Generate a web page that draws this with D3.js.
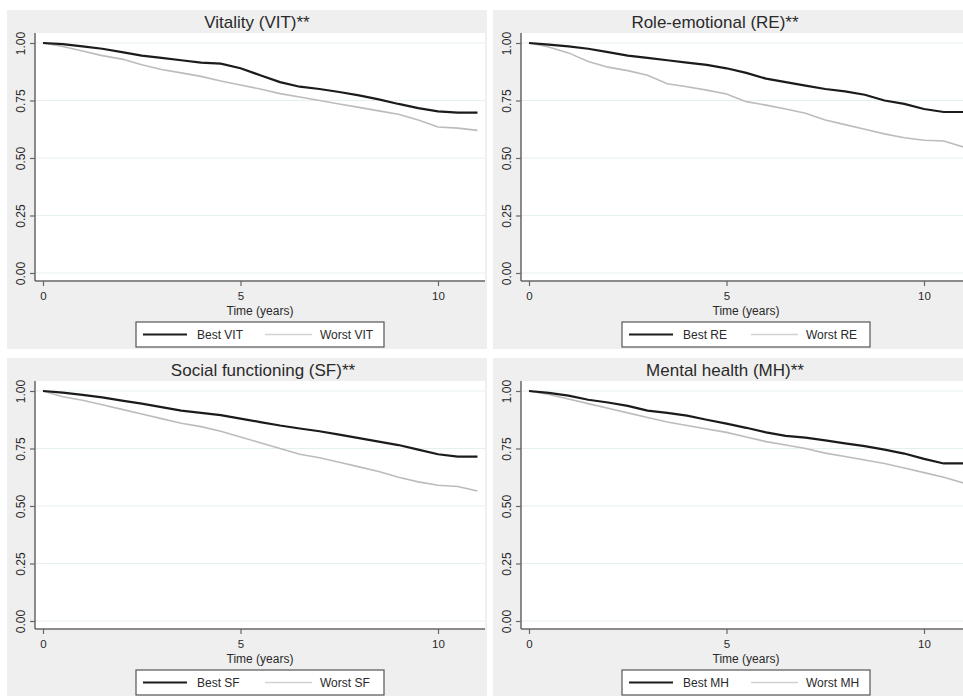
<!DOCTYPE html>
<html>
<head>
<meta charset="utf-8">
<script src="https://cdn.jsdelivr.net/npm/d3@7"></script>
<style>
  html, body { margin: 0; padding: 0; background: #ffffff; }
  svg { display: block; font-family: "Liberation Sans", Arial, sans-serif; }
</style>
</head>
<body>
<svg id="chart" width="963" height="696"></svg>
<script>
// Follow-up time grid (years) shared by all survival curves
const years = [0, 0.5, 1, 1.5, 2, 2.5, 3, 3.5, 4, 4.5, 5, 5.5, 6, 6.5, 7, 7.5, 8, 8.5, 9, 9.5, 10, 10.5, 11];

// Survival probabilities, best vs worst score group per SF-36 domain
const bestVIT  = [1.000, 0.995, 0.985, 0.975, 0.960, 0.945, 0.935, 0.925, 0.915, 0.910, 0.890, 0.860, 0.830, 0.810, 0.800, 0.787, 0.772, 0.755, 0.735, 0.717, 0.703, 0.697, 0.697];
const worstVIT = [1.000, 0.985, 0.965, 0.945, 0.930, 0.905, 0.885, 0.870, 0.855, 0.835, 0.817, 0.800, 0.780, 0.765, 0.750, 0.735, 0.720, 0.705, 0.690, 0.665, 0.635, 0.630, 0.620];

const bestRE   = [1.000, 0.993, 0.985, 0.975, 0.960, 0.945, 0.935, 0.925, 0.915, 0.905, 0.890, 0.870, 0.845, 0.830, 0.815, 0.800, 0.790, 0.775, 0.750, 0.735, 0.713, 0.700, 0.700];
const worstRE  = [1.000, 0.983, 0.957, 0.920, 0.895, 0.880, 0.860, 0.823, 0.810, 0.795, 0.778, 0.745, 0.730, 0.713, 0.695, 0.665, 0.645, 0.625, 0.605, 0.588, 0.577, 0.574, 0.548];

const bestSF   = [1.000, 0.993, 0.983, 0.972, 0.958, 0.945, 0.930, 0.915, 0.905, 0.895, 0.880, 0.865, 0.850, 0.837, 0.825, 0.810, 0.795, 0.780, 0.765, 0.745, 0.725, 0.715, 0.715];
const worstSF  = [1.000, 0.975, 0.960, 0.940, 0.920, 0.900, 0.880, 0.860, 0.845, 0.825, 0.800, 0.775, 0.750, 0.725, 0.710, 0.690, 0.670, 0.650, 0.625, 0.605, 0.590, 0.585, 0.565];

const bestMH   = [1.000, 0.992, 0.980, 0.962, 0.950, 0.935, 0.915, 0.905, 0.893, 0.875, 0.858, 0.840, 0.820, 0.805, 0.797, 0.785, 0.772, 0.760, 0.745, 0.728, 0.705, 0.685, 0.685];
const worstMH  = [1.000, 0.985, 0.965, 0.945, 0.925, 0.905, 0.885, 0.865, 0.850, 0.835, 0.820, 0.800, 0.780, 0.765, 0.750, 0.730, 0.715, 0.700, 0.685, 0.665, 0.645, 0.625, 0.600];

// Panel titles and legend labels
const panelTitles = ["Vitality (VIT)**", "Role-emotional (RE)**", "Social functioning (SF)**", "Mental health (MH)**"];
const bestLabels  = ["Best VIT", "Best RE", "Best SF", "Best MH"];
const worstLabels = ["Worst VIT", "Worst RE", "Worst SF", "Worst MH"];

// Axis ticks
const yTicks = [0, 0.25, 0.5, 0.75, 1];
const yTickLabels = ["0.00", "0.25", "0.50", "0.75", "1.00"];
const xTicks = [0, 5, 10];
const xAxisTitle = "Time (years)";

const bestSeries  = [bestVIT, bestRE, bestSF, bestMH];
const worstSeries = [worstVIT, worstRE, worstSF, worstMH];

// Panel placement on the page (left, top, title centre)
const layout = [
  { px: 7,   py: 10,  titleX: 250 },
  { px: 493, py: 10,  titleX: 222 },
  { px: 7,   py: 358, titleX: 256 },
  { px: 493, py: 358, titleX: 232 }
];

const svg = d3.select("#chart");
const panelW = 480, panelH = 339;
const axisX = 28, plotTop = 23, axisY = 271, plotRight = 478;

const BEST_COLOR = "#1b1b1b";
const WORST_COLOR = "#bcbcbc";
const AXIS_COLOR = "#666666";
const TEXT_COLOR = "#2a2a2a";

panelTitles.forEach((title, i) => {
  const L = layout[i];
  const g = svg.append("g").attr("transform", `translate(${L.px},${L.py})`);

  // graph region and plot region
  g.append("rect").attr("x", 0).attr("y", 0).attr("width", panelW).attr("height", panelH).attr("fill", "#efefef");
  g.append("rect").attr("x", axisX).attr("y", plotTop).attr("width", plotRight - axisX).attr("height", axisY - plotTop).attr("fill", "#ffffff");

  const x = d3.scaleLinear().domain([0, 10]).range([36, 431]);
  const y = d3.scaleLinear().domain([0, 1]).range([263, 33]);

  // horizontal gridlines
  g.selectAll("line.grid").data(yTicks).join("line")
    .attr("class", "grid")
    .attr("x1", axisX + 1).attr("x2", plotRight)
    .attr("y1", d => y(d)).attr("y2", d => y(d))
    .attr("stroke", "#e6eff0").attr("stroke-width", 1);

  // y axis
  const yAxis = g.append("g").attr("transform", `translate(${axisX},0)`)
    .call(d3.axisLeft(y).tickValues(yTicks).tickSize(5)
      .tickFormat((d, k) => yTickLabels[k]));
  yAxis.select(".domain").remove();
  yAxis.selectAll(".tick line").attr("stroke", AXIS_COLOR).attr("stroke-width", 1.2);
  yAxis.selectAll(".tick text")
    .attr("x", null).attr("dy", null)
    .attr("transform", "translate(-10,0) rotate(-90)")
    .attr("text-anchor", "middle")
    .attr("y", 0)
    .attr("font-size", 12).attr("fill", TEXT_COLOR)
    .style("font-family", "Liberation Sans, Arial, sans-serif");

  // x axis
  const xAxis = g.append("g").attr("transform", `translate(0,${axisY})`)
    .call(d3.axisBottom(x).tickValues(xTicks).tickSize(5).tickFormat(d3.format("d")));
  xAxis.select(".domain").remove();
  xAxis.selectAll(".tick line").attr("stroke", AXIS_COLOR).attr("stroke-width", 1.2);
  xAxis.selectAll(".tick text")
    .attr("dy", null).attr("y", 19)
    .attr("font-size", 11.5).attr("fill", TEXT_COLOR)
    .style("font-family", "Liberation Sans, Arial, sans-serif");

  // axis lines
  g.append("line").attr("x1", axisX).attr("x2", axisX).attr("y1", plotTop).attr("y2", axisY)
    .attr("stroke", AXIS_COLOR).attr("stroke-width", 1.5);
  g.append("line").attr("x1", axisX).attr("x2", plotRight).attr("y1", axisY).attr("y2", axisY)
    .attr("stroke", AXIS_COLOR).attr("stroke-width", 1.5);

  // survival curves
  const line = d3.line().x((d, k) => x(years[k])).y(d => y(d)).curve(d3.curveLinear);
  g.append("path").datum(worstSeries[i]).attr("d", line)
    .attr("fill", "none").attr("stroke", WORST_COLOR).attr("stroke-width", 1.6);
  g.append("path").datum(bestSeries[i]).attr("d", line)
    .attr("fill", "none").attr("stroke", BEST_COLOR).attr("stroke-width", 2.2);

  // title
  g.append("text").attr("x", L.titleX).attr("y", 18)
    .attr("text-anchor", "middle").attr("font-size", 17).attr("fill", TEXT_COLOR)
    .text(title);

  // x axis title
  const cx = (axisX + plotRight) / 2;
  g.append("text").attr("x", cx).attr("y", 304.5)
    .attr("text-anchor", "middle").attr("font-size", 12).attr("fill", TEXT_COLOR)
    .text(xAxisTitle);

  // legend
  const lx = cx - 124, ly = 312, lw = 248, lh = 25, lc = ly + lh / 2;
  g.append("rect").attr("x", lx).attr("y", ly).attr("width", lw).attr("height", lh)
    .attr("fill", "#ffffff").attr("stroke", "#555555").attr("stroke-width", 1.2);
  g.append("line").attr("x1", lx + 7).attr("x2", lx + 51).attr("y1", lc).attr("y2", lc)
    .attr("stroke", BEST_COLOR).attr("stroke-width", 2.2);
  g.append("text").attr("x", lx + 61).attr("y", lc + 4.3)
    .attr("font-size", 12).attr("fill", TEXT_COLOR).text(bestLabels[i]);
  g.append("line").attr("x1", lx + 129).attr("x2", lx + 176).attr("y1", lc).attr("y2", lc)
    .attr("stroke", "#d2d2d2").attr("stroke-width", 1.4);
  g.append("text").attr("x", lx + 184).attr("y", lc + 4.3)
    .attr("font-size", 12).attr("fill", TEXT_COLOR).text(worstLabels[i]);
});
</script>
</body>
</html>
